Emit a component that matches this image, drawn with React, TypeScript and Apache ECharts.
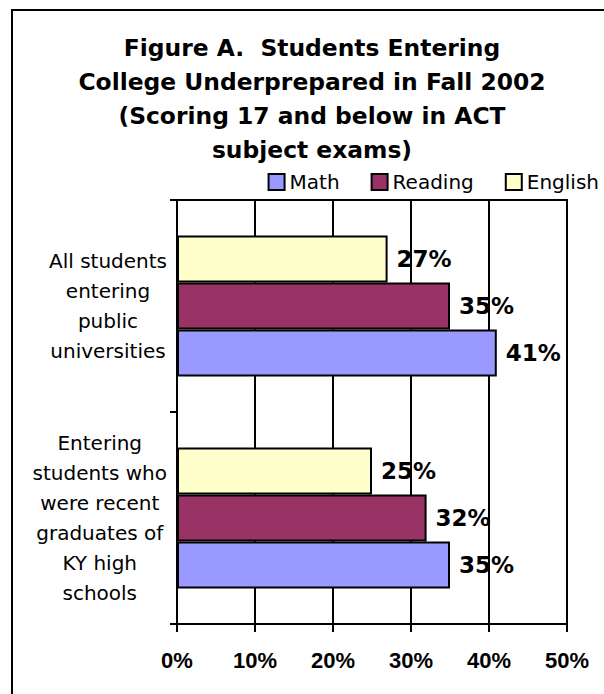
import React, { useEffect, useRef } from "react";
import * as echarts from "echarts";

const categories = [
  "All students\nentering\npublic\nuniversities",
  "Entering\nstudents who\nwere recent\ngraduates of\nKY high\nschools",
];
const legendOrder = ["Math", "Reading", "English"];
const mathValues = [41, 35];
const readingValues = [35, 32];
const englishValues = [27, 25];
const xMin = 0;
const xMax = 50;
const xStep = 10;
const titleText =
  "Figure A.  Students Entering\nCollege Underprepared in Fall 2002\n(Scoring 17 and below in ACT\nsubject exams)";

const colors: Record<string, string> = {
  Math: "#9999FF",
  Reading: "#993366",
  English: "#FFFFCC",
};

export default function App() {
  const ref = useRef<HTMLDivElement>(null);
  useEffect(() => {
    const chart = echarts.init(ref.current!, null, { renderer: "svg" });
    const labelStyle = {
      show: true,
      position: "right",
      distance: 9,
      formatter: "{c}%",
      fontFamily: "DejaVu Sans",
      fontWeight: "bold",
      fontSize: 23,
      color: "#000",
    };
    const mk = (name: string, data: number[]) => ({
      name,
      type: "bar",
      data,
      barGap: "0%",
      barCategoryGap: "33.5%",
      itemStyle: { color: colors[name], borderColor: "#000", borderWidth: 2 },
      label: labelStyle,
    });
    const line = { color: "#000", width: 2 };
    chart.setOption({
      animation: false,
      backgroundColor: "#fff",
      title: {
        text: titleText,
        left: 312,
        top: 31,
        padding: 0,
        textAlign: "center",
        textStyle: {
          fontFamily: "DejaVu Sans",
          fontWeight: "bold",
          fontSize: 23.4,
          lineHeight: 34,
          color: "#000",
        },
      },
      legend: {
        data: legendOrder,
        right: 5,
        top: 172,
        padding: 0,
        itemWidth: 16,
        itemHeight: 16,
        itemGap: 31,
        icon: "rect",
        textStyle: { fontFamily: "DejaVu Sans", fontSize: 20, color: "#000" },
      },
      grid: {
        left: 177,
        right: 37,
        top: 200,
        bottom: 70,
        show: true,
        borderColor: "#000",
        borderWidth: 2,
      },
      xAxis: {
        type: "value",
        min: xMin,
        max: xMax,
        interval: xStep,
        axisLine: { show: true, lineStyle: line },
        axisTick: { show: true, length: 8, lineStyle: line },
        axisLabel: {
          formatter: "{value}%",
          margin: 25,
          fontFamily: "Liberation Sans",
          fontWeight: "bold",
          fontSize: 22,
          color: "#000",
        },
        splitLine: { show: true, lineStyle: line },
      },
      yAxis: {
        type: "category",
        inverse: true,
        data: categories,
        axisLine: { show: true, lineStyle: line },
        axisTick: { show: true, length: 7, lineStyle: line },
        axisLabel: {
          align: "right",
          margin: 10,
          formatter: (v: string) =>
            v
              .split("\n")
              .map((s) => `{c|${s}}`)
              .join("\n"),
          rich: {
            c: {
              align: "center",
              fontFamily: "DejaVu Sans",
              fontSize: 20,
              lineHeight: 30,
              color: "#000",
            },
          },
        },
        splitLine: { show: false },
      },
      graphic: [
        {
          type: "rect",
          shape: { x: 12, y: 10, width: 700, height: 800 },
          style: { fill: "none", stroke: "#000", lineWidth: 2 },
          silent: true,
        },
      ],
      series: [
        mk("English", englishValues),
        mk("Reading", readingValues),
        mk("Math", mathValues),
      ],
    });
    return () => chart.dispose();
  }, []);
  return (
    <div
      ref={ref}
      style={{ position: "fixed", left: 0, top: 0, width: 604, height: 694 }}
    />
  );
}
